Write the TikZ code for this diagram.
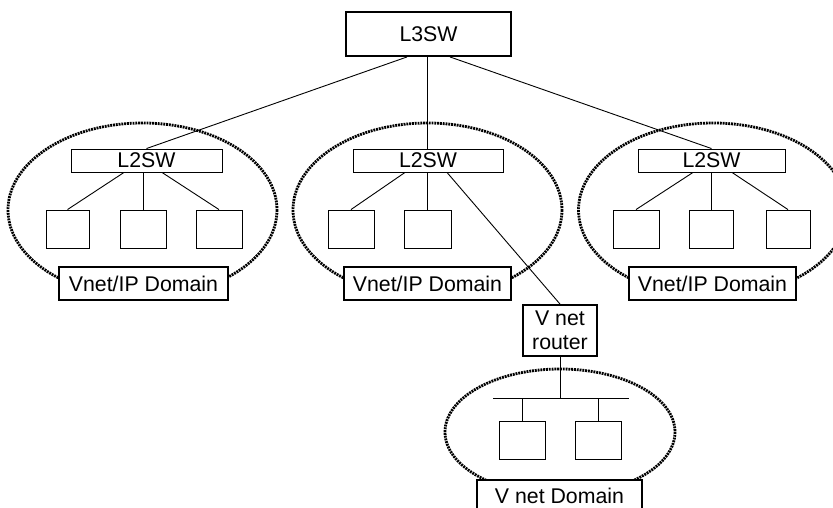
\documentclass[tikz,border=0pt]{standalone}
\usepackage{fontspec}
\setmainfont{Liberation Sans}
\begin{document}
\begin{tikzpicture}[x=1pt,y=-1pt,
  every node/.style={inner sep=0pt, font=\fontsize{21.3}{23}\selectfont},
  thickbox/.style={draw, line width=1.9pt, fill=white},
  swbox/.style={draw, line width=0.9pt, fill=white, minimum height=23pt},
  pcbox/.style={draw, line width=0.9pt, fill=white, minimum width=45pt, minimum height=38pt},
  domainring/.style={draw, line width=2.8pt, dash pattern=on 1.9pt off 0.9pt},
  link/.style={line width=0.9pt}]
\clip (0,0) rectangle (833,508);
\useasboundingbox (0,0) rectangle (833,508);

% domain ellipses
\draw[domainring] (142.5,210) ellipse [x radius=134.5, y radius=87];
\draw[domainring] (427.5,210) ellipse [x radius=134.5, y radius=87];
\draw[domainring] (713,210) ellipse [x radius=134.5, y radius=87];
\draw[domainring] (560,432) ellipse [x radius=115, y radius=63];

% L3 switch
\node[thickbox, minimum width=165pt, minimum height=44pt] (l3) at (428.5,34) {L3SW};

% L2 switches
\node[swbox, minimum width=151pt] (l2a) at (146.5,160.5) {L2SW};
\node[swbox, minimum width=150pt] (l2b) at (428,160.5) {L2SW};
\node[swbox, minimum width=147pt] (l2c) at (711.5,160.5) {L2SW};

% end stations
\node[pcbox, minimum width=43pt] (a1) at (67.5,229) {};
\node[pcbox, minimum width=46pt] (a2) at (143,229) {};
\node[pcbox, minimum width=46pt] (a3) at (219,229) {};
\node[pcbox, minimum width=46pt] (b1) at (351,229) {};
\node[pcbox, minimum width=47pt] (b2) at (427.5,229) {};
\node[pcbox, minimum width=46pt] (c1) at (636,229) {};
\node[pcbox, minimum width=44pt] (c2) at (711,229) {};
\node[pcbox, minimum width=44pt] (c3) at (788,229) {};

% router
\node[thickbox, minimum width=74pt, minimum height=51pt, align=center, font=\fontsize{21.3}{23.5}\selectfont] (rt) at (560,330.5) {V net\\router};

% V net stations
\node[pcbox, minimum width=46pt] (d1) at (522,440) {};
\node[pcbox, minimum width=46pt] (d2) at (598,440) {};
\coordinate (busl) at (493,398);
\coordinate (busr) at (629,398);

% connectors
\draw[link] ([xshift=-21.5pt]l3.south) -- (l2a.north);
\draw[link] ([xshift=-1.5pt]l3.south) -- ([xshift=-1.5pt]l3.south |- l2b.north);
\draw[link] ([xshift=21.5pt]l3.south) -- (l2c.north);

\draw[link] ([xshift=-22.5pt]l2a.south) -- (a1.north);
\draw[link] (a2.north) -- (a2.north |- l2a.south);
\draw[link] ([xshift=15.5pt]l2a.south) -- (a3.north);

\draw[link] ([xshift=-23pt]l2b.south) -- (b1.north);
\draw[link] (b2.north) -- (b2.north |- l2b.south);
\draw[link] ([xshift=19pt]l2b.south) -- (rt.north);

\draw[link] ([xshift=-18.5pt]l2c.south) -- (c1.north);
\draw[link] (c2.north) -- (c2.north |- l2c.south);
\draw[link] ([xshift=20.5pt]l2c.south) -- (c3.north);

\draw[link] (rt.south) -- (rt.south |- busl);
\draw[link] (busl) -- (busr);
\draw[link] (d1.north) -- (d1.north |- busl);
\draw[link] (d2.north) -- (d2.north |- busl);

% domain labels
\node[thickbox, minimum width=169pt, minimum height=33pt] (da) at (143.5,283.5) {Vnet/IP Domain};
\node[thickbox, minimum width=167pt, minimum height=33pt] (db) at (427.5,283.5) {Vnet/IP Domain};
\node[thickbox, minimum width=167pt, minimum height=33pt] (dc) at (712.5,283.5) {Vnet/IP Domain};
\node[thickbox, minimum width=165pt, minimum height=36pt, anchor=north] (dd) at (559.5,479) {};
\node (ddt) at (559.5,496) {V net Domain};
\end{tikzpicture}
\end{document}
